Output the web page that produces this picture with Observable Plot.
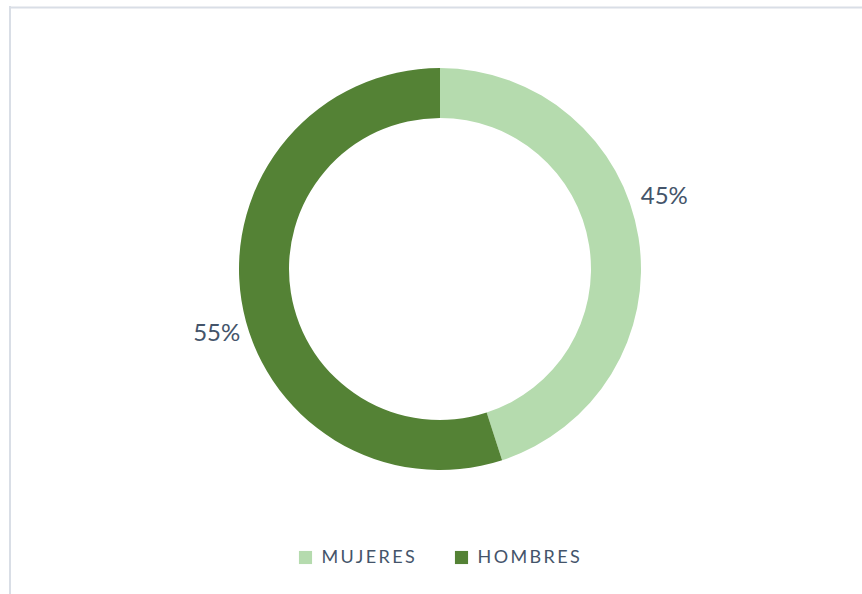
<!DOCTYPE html>
<html>
<head>
<meta charset="utf-8">
<script src="https://cdn.jsdelivr.net/npm/d3@7"></script>
<script src="https://cdn.jsdelivr.net/npm/@observablehq/plot@0.6"></script>
<style>
  html, body { margin: 0; padding: 0; background: #fff; }
  svg { display: block; }
</style>
</head>
<body>
<div id="chart"></div>
<script>
// ---- data ----
const categories = ["MUJERES", "HOMBRES"];
const shares = [0.45, 0.55];
const pctLabels = ["45%", "55%"];
const colors = ["#b5dbae", "#548235"];

// ---- layout ----
const W = 862, H = 594;
const cx = 440, cy = 269, rOuter = 201, rInner = 151;
const labelR = 234, labelShift = -8 * Math.PI / 180;
const textColor = "#44546a";

const pie = d3.pie().sort(null)(shares);
const rows = categories.map((c, i) => {
  const a = (pie[i].startAngle + pie[i].endAngle) / 2 + labelShift;
  return {
    cat: c,
    share: shares[i],
    label: pctLabels[i],
    lx: cx + labelR * Math.sin(a),
    ly: cy - labelR * Math.cos(a) - 5,
    legX: 297 + i * 156
  };
});

const donut = (index, scales) => {
  const g = d3.create("svg:g").attr("transform", `translate(${cx},${cy})`);
  const arc = d3.arc().innerRadius(rInner).outerRadius(rOuter);
  g.selectAll("path").data(pie).join("path")
    .attr("d", arc)
    .attr("fill", (d, i) => scales.color ? scales.color(categories[i]) : colors[i]);
  return g.node();
};

const chart = Plot.plot({
  width: W, height: H,
  margin: 0,
  x: {type: "identity", axis: null},
  y: {type: "identity", axis: null},
  color: {domain: categories, range: colors},
  style: {fontFamily: "Lato, 'Open Sans', sans-serif", background: "#fff"},
  marks: [
    Plot.ruleX([9.5], {y1: 6, y2: H, stroke: "#d9dee6", strokeWidth: 2}),
    Plot.ruleY([7], {x1: 9, x2: W, stroke: "#d9dee6", strokeWidth: 2}),
    donut,
    Plot.text(rows, {x: "lx", y: "ly", text: "label", fill: textColor, fontSize: 24, textAnchor: "middle"}),
    Plot.dot(rows, {x: d => d.legX + 8, y: 557, symbol: "square", r: 7.4, fill: "cat", stroke: null}),
    Plot.text(rows, {x: d => d.legX + 24, y: 557, text: "cat", fill: textColor, fontSize: 18, textAnchor: "start"})
  ]
});
chart.querySelectorAll("text").forEach(t => {
  if (categories.includes(t.textContent)) t.style.letterSpacing = "2.4px";
});
document.getElementById("chart").appendChild(chart);
</script>
</body>
</html>
